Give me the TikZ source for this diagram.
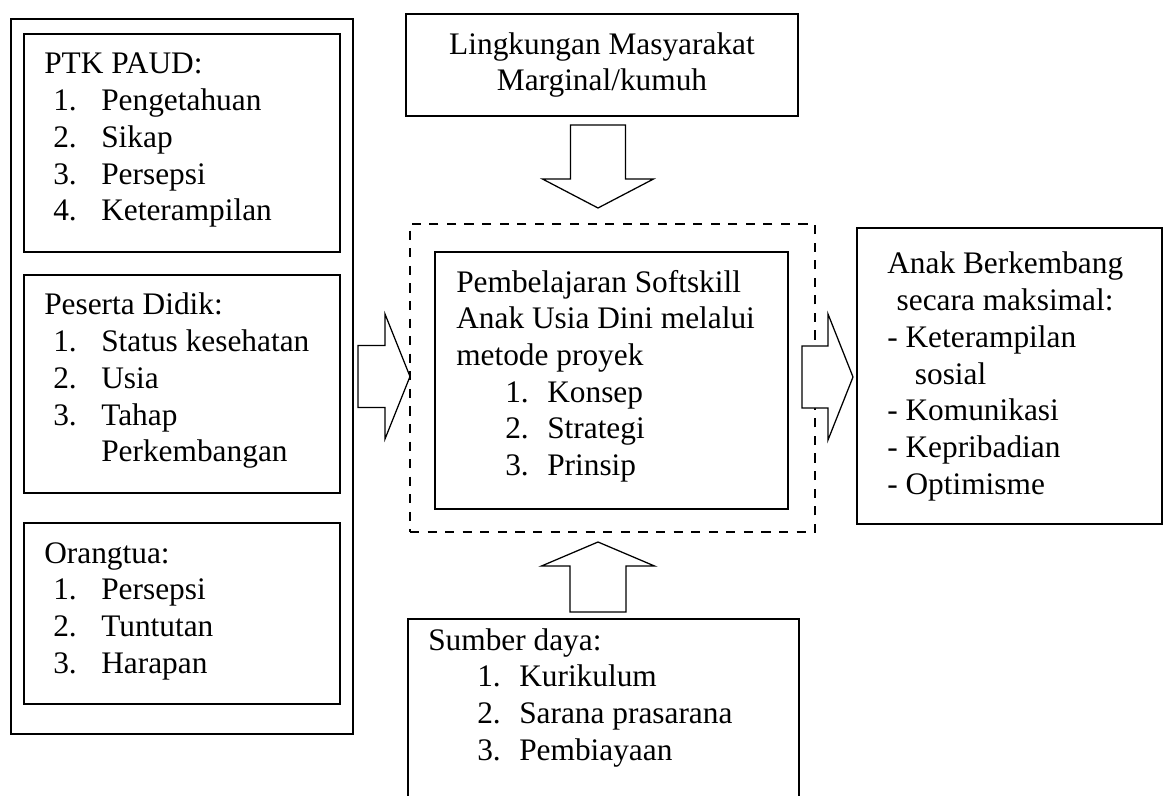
\documentclass[tikz,border=0pt]{standalone}
\usepackage{fontspec}
\setmainfont{Liberation Serif}
\usetikzlibrary{calc}

\newcommand{\leftitem}[2]{\hspace*{0.225cm}\makebox[1.2cm][l]{#1}#2}
\newcommand{\miditem}[2]{\hspace*{1.225cm}\makebox[1.05cm][l]{#1}#2}
% block arrow: start, direction, length, head length, half shaft, half head
\newcommand{\fatarrow}[6]{%
	\draw[arrowline,shift={#1},rotate=#2] (0,-#5) -- ({#3-#4},-#5) -- ({#3-#4},-#6) -- (#3,0) -- ({#3-#4},#6) -- ({#3-#4},#5) -- (0,#5) -- cycle;}

\begin{document}
\begin{tikzpicture}[
	box/.style={shape=rectangle,draw,line width=1.1pt,inner sep=0pt,outer sep=0pt},
	thickbox/.style={box,line width=1.4pt},
	txt/.style={anchor=base west,inner sep=0pt,font=\fontsize{22.3pt}{26.1pt}\selectfont},
	arrowline/.style={draw,fill=white,line width=0.9pt,line join=miter}]
	\path[use as bounding box,clip] (0,0) rectangle (29.125,19.875);
	% left column
	\draw (4.55,10.4625) node (factors) [thickbox,minimum width=8.55cm,minimum height=17.875cm] {};
	\draw (4.55,16.3) node (ptk) [thickbox,minimum width=7.9cm,minimum height=5.45cm] {};
	\draw (4.55,10.275) node (peserta) [thickbox,minimum width=7.9cm,minimum height=5.45cm] {};
	\draw (4.55,4.5375) node (ortu) [thickbox,minimum width=7.9cm,minimum height=4.525cm] {};
	\node (ptk-txt) [txt] at ($(ptk.north west)+(0.5,-1.0)$) {\begin{tabular}[t]{@{}l@{}}
		PTK PAUD:\\ \leftitem{1.}{Pengetahuan}\\ \leftitem{2.}{Sikap}\\ \leftitem{3.}{Persepsi}\\ \leftitem{4.}{Keterampilan}\end{tabular}};
	\node (peserta-txt) [txt] at ($(peserta.north west)+(0.5,-1.0)$) {\begin{tabular}[t]{@{}l@{}}
		Peserta Didik:\\ \leftitem{1.}{Status kesehatan}\\ \leftitem{2.}{Usia}\\ \leftitem{3.}{Tahap}\\ \leftitem{}{Perkembangan}\end{tabular}};
	\node (ortu-txt) [txt] at ($(ortu.north west)+(0.5,-1.0)$) {\begin{tabular}[t]{@{}l@{}}
		Orangtua:\\ \leftitem{1.}{Persepsi}\\ \leftitem{2.}{Tuntutan}\\ \leftitem{3.}{Harapan}\end{tabular}};
	% centre column
	\draw (15.05,18.25) node (ling) [box,minimum width=9.8cm,minimum height=2.55cm,align=center,font=\fontsize{22.3pt}{26.1pt}\selectfont] {Lingkungan Masyarakat\\Marginal/kumuh};
	\draw (15.3125,10.425) node (proses) [box,line width=1.4pt,dash pattern=on 6.5pt off 6pt,minimum width=10.125cm,minimum height=7.7cm] {};
	\draw (15.2875,10.3625) node (belajar) [box,minimum width=8.825cm,minimum height=6.425cm] {};
	\node (belajar-txt) [txt] at ($(belajar.north west)+(0.525,-1.0)$) {\begin{tabular}[t]{@{}l@{}}
		Pembelajaran Softskill\\ Anak Usia Dini melalui\\ metode proyek\\ \miditem{1.}{Konsep}\\ \miditem{2.}{Strategi}\\ \miditem{3.}{Prinsip}\end{tabular}};
	\draw (15.0875,1.95) node (sumber) [box,minimum width=9.775cm,minimum height=4.9cm] {};
	\node (sumber-txt) [txt] at ($(sumber.north west)+(0.5,-0.775)$) {\begin{tabular}[t]{@{}l@{}}
		Sumber daya:\\ \miditem{1.}{Kurikulum}\\ \miditem{2.}{Sarana prasarana}\\ \miditem{3.}{Pembiayaan}\end{tabular}};
	% right column
	\draw (25.2375,10.475) node (hasil) [box,minimum width=7.625cm,minimum height=7.4cm] {};
	\node (hasil-txt) [txt] at ($(hasil.north west)+(0.75,-1.15)$) {\begin{tabular}[t]{@{}l@{}}
		Anak Berkembang\\ \hspace*{0.235cm}secara maksimal:\\ - Keterampilan\\ \hspace*{0.69cm}sosial\\ - Komunikasi\\ - Kepribadian\\ - Optimisme\end{tabular}};
	% block arrows
	\fatarrow{($(ling.south)+(-0.1,-0.225)$)}{-90}{2.075}{0.725}{0.6875}{1.3875}
	\fatarrow{($(factors.east)+(0.125,0)$)}{0}{1.3}{0.625}{0.775}{1.5625}
	\fatarrow{($(belajar.east)+(0.35,0.0875)$)}{0}{1.275}{0.625}{0.775}{1.575}
	\fatarrow{($(sumber.north)+(-0.1375,0.175)$)}{90}{1.75}{0.6}{0.7}{1.4125}
\end{tikzpicture}
\end{document}
